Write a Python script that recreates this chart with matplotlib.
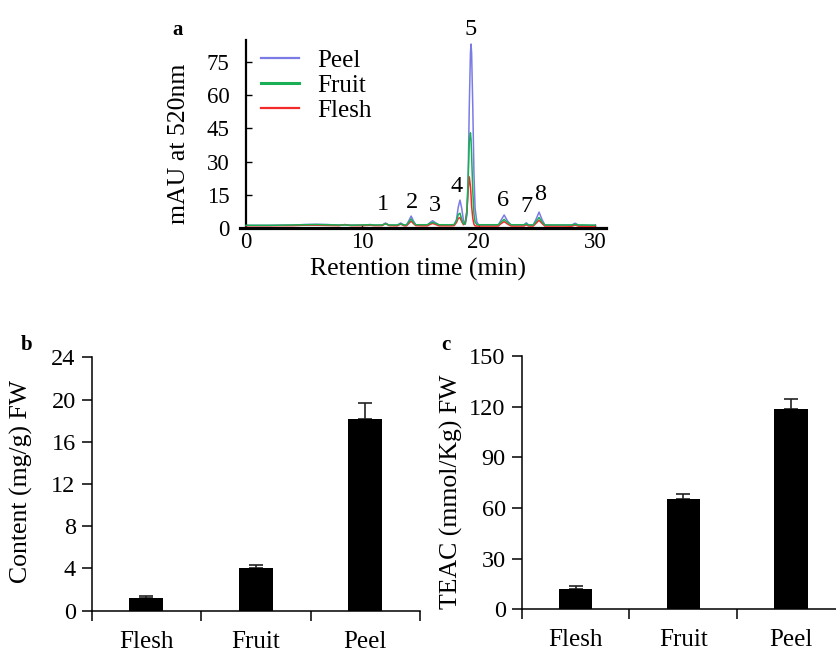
import matplotlib
matplotlib.use("Agg")
import matplotlib.pyplot as plt
from matplotlib.lines import Line2D

plt.rcParams['font.family'] = ['Liberation Serif', 'DejaVu Serif']
plt.rcParams['mathtext.fontset'] = 'stix'

# ---------------- data: panel a (chromatogram readings) ----------------
time_min = [0, 1, 2, 3, 4, 5, 6, 7, 8, 8.5, 9, 10, 10.7, 11,
            11.7, 12.0, 12.3,
            13.0, 13.3, 13.6,
            13.8, 14.0, 14.2, 14.4, 14.6,
            15.0,
            15.6, 15.8, 16.05, 16.3, 16.6,
            17.0, 17.6,
            17.9, 18.1, 18.25, 18.4, 18.55, 18.7,
            18.85, 19.0, 19.1, 19.2, 19.3, 19.35, 19.4, 19.5, 19.6, 19.7, 19.85, 20.0,
            20.3, 21.0,
            21.7, 21.9, 22.2, 22.5, 22.8,
            23.5,
            23.9, 24.1, 24.3,
            24.7, 24.95, 25.2, 25.45, 25.7,
            26.5, 27.5,
            28.0, 28.3, 28.6,
            29.0, 30.0]

peel_mau = [1.3, 1.3, 1.3, 1.4, 1.4, 1.7, 1.8, 1.7, 1.4, 1.6, 1.4, 1.4, 1.7, 1.4,
            1.4, 2.4, 1.4,
            1.4, 2.4, 1.4,
            1.5, 3.4, 5.5, 3.3, 1.6,
            1.5,
            1.5, 2.5, 3.4, 2.5, 1.5,
            1.5, 1.5,
            1.6, 4.0, 9.5, 12.7, 9.0, 3.5,
            1.8, 6, 22, 55, 79, 83, 79, 55, 25, 9, 2.8, 1.6,
            1.5, 1.5,
            1.5, 3.4, 6.0, 3.2, 1.5,
            1.5,
            1.5, 2.5, 1.5,
            1.5, 4.2, 7.3, 4.0, 1.5,
            1.4, 1.4,
            1.4, 2.3, 1.4,
            1.3, 1.3]

fruit_mau = [1.35, 1.35, 1.35, 1.4, 1.5, 1.6, 1.7, 1.6, 1.5, 1.5, 1.4, 1.5, 1.6, 1.5,
             1.5, 2.0, 1.5,
             1.5, 2.0, 1.5,
             1.5, 2.8, 4.2, 2.7, 1.6,
             1.6,
             1.6, 2.2, 2.7, 2.2, 1.6,
             1.6, 1.6,
             1.7, 3.4, 6.2, 6.8, 4.0, 2.0,
             2.0, 8, 22, 39, 43, 40, 33, 17, 6.5, 2.8, 1.7, 1.6,
             1.6, 1.6,
             1.6, 2.7, 4.0, 2.6, 1.6,
             1.6,
             1.6, 2.0, 1.5,
             1.5, 3.1, 4.9, 2.9, 1.5,
             1.5, 1.5,
             1.5, 1.8, 1.5,
             1.5, 1.4]

flesh_mau = [1.15, 1.15, 1.15, 1.2, 1.2, 1.4, 1.4, 1.3, 1.2, 1.7, 1.2, 1.2, 1.4, 1.2,
             1.2, 2.1, 1.2,
             1.1, 1.9, 1.1,
             1.1, 2.2, 3.2, 2.1, 1.2,
             1.1,
             1.1, 1.7, 2.2, 1.7, 1.1,
             1.1, 1.1,
             1.2, 2.6, 4.5, 4.8, 3.0, 1.6,
             2.5, 8, 17, 23.2, 19, 15, 10, 4.5, 1.8, 1.1, 1.0, 1.0,
             1.0, 1.0,
             1.0, 2.0, 3.0, 1.9, 1.0,
             1.0,
             1.0, 1.6, 1.0,
             1.0, 2.3, 3.6, 2.2, 1.0,
             1.0, 1.0,
             0.9, 1.5, 0.9,
             0.9, 0.9]

peak_ids = ['1', '2', '3', '4', '5', '6', '7', '8']
peak_label_t = [11.75, 14.3, 16.2, 18.1, 19.35, 22.1, 24.1, 25.3]
peak_label_y = [10.5, 11.5, 10.2, 18.7, 89.6, 12.3, 10.0, 15.0]

a_yticks = [0, 15, 30, 45, 60, 75]
a_xticks = [0, 10, 20, 30]

# ---------------- data: panels b, c ----------------
categories = ['Flesh', 'Fruit', 'Peel']
content_mg_g = [1.2, 4.0, 18.2]
content_err = [0.15, 0.3, 1.5]
teac_mmol_kg = [11.8, 65.3, 118.7]
teac_err = [1.8, 3.2, 5.8]
b_yticks = [0, 4, 8, 12, 16, 20, 24]
c_yticks = [0, 30, 60, 90, 120, 150]

W, H = 837, 652
fig = plt.figure(figsize=(W / 100, H / 100), dpi=100)

def fig_rect(left_px, top_px, right_px, bottom_px):
    return [left_px / W, (H - bottom_px) / H, (right_px - left_px) / W, (bottom_px - top_px) / H]

# ---------------- panel a ----------------
ax = fig.add_axes(fig_rect(240.2, 39.6, 606.5, 228.3))
c_peel, c_fruit, c_flesh = '#7b7be6', '#1aae55', '#f42a2a'
ax.plot(time_min, peel_mau, color=c_peel, lw=1.1, zorder=2)
ax.plot(time_min, flesh_mau, color=c_flesh, lw=1.1, zorder=3)
ax.plot(time_min, fruit_mau, color=c_fruit, lw=1.1, zorder=4)
ax.set_xlim(-0.5, 31)
ax.set_ylim(0, 85)
for s in ['top', 'right']:
    ax.spines[s].set_visible(False)
ax.spines['left'].set_position(('data', 0))
ax.spines['left'].set_linewidth(1.6)
ax.spines['bottom'].set_linewidth(2.3)
ax.set_yticks(a_yticks)
ax.set_xticks(a_xticks)
ax.tick_params(axis='y', direction='in', length=4, width=1, labelsize=16.5, pad=12)
ax.tick_params(axis='x', direction='in', length=3, width=1, labelsize=16.5, pad=3)
ax.set_ylabel('mAU at 520nm', fontsize=18.5)
ax.yaxis.set_label_coords(-0.137, 0.447)
ax.set_xlabel('Retention time (min)', fontsize=18.5)
ax.xaxis.set_label_coords(0.486, -0.157)
for pid, pt, py in zip(peak_ids, peak_label_t, peak_label_y):
    ax.text(pt, py, pid, ha='center', va='center', fontsize=17.5, clip_on=False)
handles = [Line2D([], [], color=c_peel, lw=1.6),
           Line2D([], [], color=c_fruit, lw=2.2),
           Line2D([], [], color=c_flesh, lw=1.6)]
ax.legend(handles, ['Peel', 'Fruit', 'Flesh'], loc='upper left', frameon=False,
          fontsize=18, handlelength=1.5, handletextpad=0.75, labelspacing=0.1,
          bbox_to_anchor=(0.03, 1.0), borderaxespad=0)
fig.text(178 / W, 1 - 30 / H, 'a', fontsize=15, fontweight='bold', ha='center', va='center')

# ---------------- panels b, c ----------------
def bar_panel(rect, values, errs, yticks, ylabel, lab_xy):
    bx = fig.add_axes(rect)
    pos = [i + 0.5 for i in range(len(categories))]
    bx.bar(pos, values, width=0.31, color='black', zorder=2)
    bx.errorbar(pos, values, yerr=[[0] * len(errs), errs], fmt='none', ecolor='#222222',
                elinewidth=1.2, capsize=4.7, capthick=1.2, zorder=1)
    bx.set_xlim(0, len(categories))
    bx.set_ylim(yticks[0], yticks[-1])
    for s in ['top', 'right']:
        bx.spines[s].set_visible(False)
    for s in ['left', 'bottom']:
        bx.spines[s].set_linewidth(1.1)
    bx.set_yticks(yticks)
    bx.set_xticks(range(len(categories) + 1))
    bx.set_xticklabels([])
    bx.set_xticks(pos, minor=True)
    bx.set_xticklabels(categories, minor=True)
    bx.tick_params(axis='x', which='major', direction='out', length=7.5, width=1.1)
    bx.tick_params(axis='x', which='minor', length=0, labelsize=18, pad=14.5)
    bx.tick_params(axis='y', direction='out', length=7.5, width=1.1, labelsize=17.5, pad=4)
    bx.set_ylabel(ylabel, fontsize=18.5)
    bx.yaxis.set_label_coords(*lab_xy)
    return bx

bar_panel(fig_rect(91.7, 357.3, 420, 610.7), content_mg_g, content_err, b_yticks,
          'Content (mg/g) FW', (-0.179, 0.509))
bar_panel(fig_rect(521.7, 356, 844.8, 609.3), teac_mmol_kg, teac_err, c_yticks,
          'TEAC (mmol/Kg) FW', (-0.182, 0.464))
fig.text(27 / W, 1 - 345 / H, 'b', fontsize=15, fontweight='bold', ha='center', va='center')
fig.text(446 / W, 1 - 345 / H, 'c', fontsize=15, fontweight='bold', ha='center', va='center')

fig.savefig('out.png', dpi=100)
